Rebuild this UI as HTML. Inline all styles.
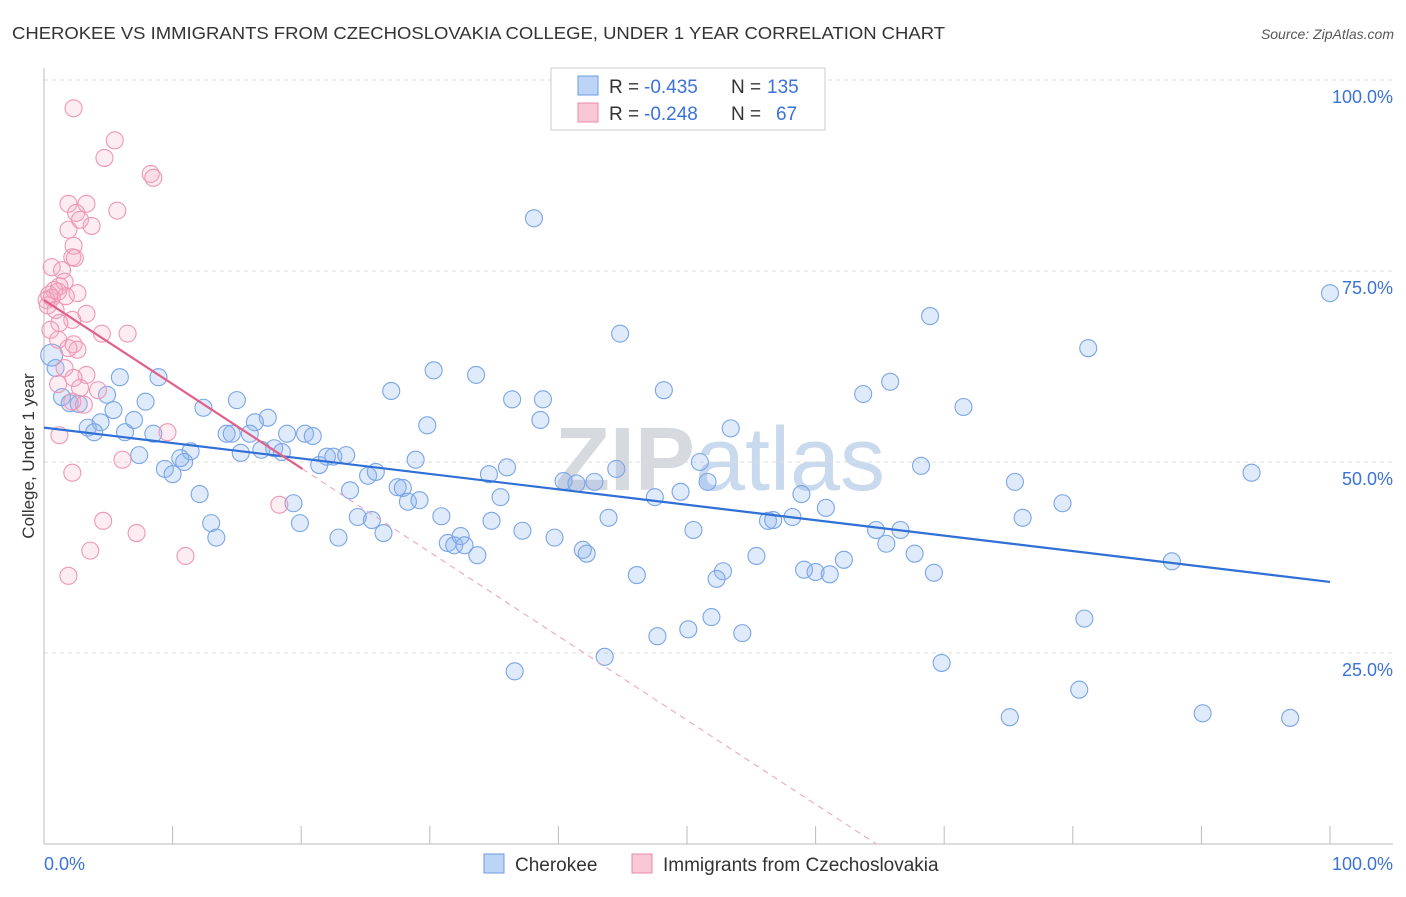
<!DOCTYPE html>
<html><head><meta charset="utf-8"><style>
body{margin:0;background:#fff;font-family:"Liberation Sans",sans-serif}
svg text{font-family:"Liberation Sans",sans-serif}
</style></head><body>
<svg id="chart" width="1406" height="892">
<text x="12" y="39" font-size="17.5" fill="#333" textLength="933" lengthAdjust="spacingAndGlyphs">CHEROKEE VS IMMIGRANTS FROM CZECHOSLOVAKIA COLLEGE, UNDER 1 YEAR CORRELATION CHART</text>
<text x="1394" y="39" font-size="14" fill="#555" font-style="italic" text-anchor="end">Source: ZipAtlas.com</text>
<text x="720" y="490" font-size="90" fill="#d8dde6" text-anchor="middle" font-family="Liberation Serif"><tspan font-weight="bold" fill="#d6d9de">ZIP</tspan><tspan fill="#c9d9ee">atlas</tspan></text>
<g id="grid"></g><g id="axes"></g><g id="pts"></g><g id="lines"></g>
<text transform="translate(34,456) rotate(-90)" font-size="17" fill="#333" text-anchor="middle">College, Under 1 year</text>
<g>
<rect x="551" y="68" width="274" height="62" fill="#fff" stroke="#ccc"/>
<rect x="578" y="76" width="20" height="19" fill="#bcd4f5" stroke="#6b9be0"/>
<text y="93" font-size="19" fill="#333"><tspan x="609">R =</tspan><tspan x="644" fill="#3a72d8">-0.435</tspan><tspan x="731">N =</tspan><tspan x="767" fill="#3a72d8">135</tspan></text>
<rect x="578" y="103" width="20" height="19" fill="#f8c8d6" stroke="#e88aa8"/>
<text y="120" font-size="19" fill="#333"><tspan x="609">R =</tspan><tspan x="644" fill="#3a72d8">-0.248</tspan><tspan x="731">N =</tspan><tspan x="776" fill="#3a72d8">67</tspan></text>
</g>
<g>
<rect x="484" y="854" width="20" height="19" fill="#bcd4f5" stroke="#6b9be0"/>
<text x="515" y="871" font-size="19" fill="#333">Cherokee</text>
<rect x="632" y="854" width="20" height="19" fill="#f8c8d6" stroke="#e88aa8"/>
<text x="663" y="871" font-size="19" fill="#333">Immigrants from Czechoslovakia</text>
</g>
</svg>
<script>
const blueX=[38.1,44.8,68.9,81.2,100,30.3,33.6,27.0,48.2,65.8,63.7,36.4,38.8,38.6,29.8,53.4,71.5,8.9,5.9,0.9,0.6,1.4,2.0,2.7,4.9,5.4,4.4,3.4,3.9,6.3,7.0,7.9,8.5,12.4,15.0,17.4,16.4,14.2,14.6,16.0,15.3,17.9,16.9,18.5,18.9,20.3,20.9,11.4,7.4,10.6,9.4,10.0,10.9,12.1,13.0,13.4,19.4,19.9,22.9,21.4,22.0,22.5,23.5,23.8,25.2,25.8,24.4,25.5,26.4,27.5,27.9,28.3,29.2,28.9,30.9,31.4,31.9,32.4,32.7,33.7,34.6,36.0,35.5,34.8,37.2,39.7,40.4,41.4,42.8,44.5,41.9,42.2,43.9,46.1,47.5,49.5,51.0,51.6,50.5,52.8,52.3,47.7,50.1,51.9,54.3,55.4,56.3,56.7,58.2,58.9,59.1,60.0,61.1,62.2,60.8,64.7,65.5,66.6,67.7,69.2,68.2,69.8,43.6,36.6,75.1,80.5,90.1,96.9,80.9,87.7,93.9,75.5,76.1,79.2];
const blueY=[81.9,66.8,69.1,64.9,72.1,62.0,61.4,59.3,59.4,60.5,58.9,58.2,58.2,55.5,54.8,54.4,57.2,61.1,61.1,62.3,64.0,58.5,57.7,57.6,58.8,56.8,55.2,54.5,53.9,53.9,55.5,57.9,53.7,57.1,58.1,55.8,55.2,53.7,53.7,53.7,51.2,51.8,51.6,51.3,53.7,53.7,53.4,51.4,50.9,50.5,49.1,48.4,50.0,45.8,42.0,40.1,44.6,42.0,40.1,49.6,50.7,50.7,50.9,46.3,48.2,48.7,42.8,42.4,40.7,46.7,46.6,44.8,45.0,50.3,42.9,39.4,39.1,40.3,39.1,37.8,48.4,49.3,45.4,42.3,41.0,40.1,47.5,47.2,47.4,49.1,38.5,38.0,42.7,35.2,45.4,46.1,50.0,47.4,41.1,35.7,34.7,27.2,28.1,29.7,27.6,37.7,42.3,42.4,42.8,45.8,35.9,35.6,35.3,37.2,44.0,41.1,39.3,41.1,38.0,35.5,49.5,23.7,24.5,22.6,16.6,20.2,17.1,16.5,29.5,37.0,48.6,47.4,42.7,44.6];
const pinkX=[2.3,5.5,4.7,8.3,8.5,1.9,3.3,5.7,2.5,2.8,3.7,1.9,2.3,2.2,2.4,0.6,1.4,1.6,1.2,0.8,0.4,0.6,1.1,0.2,0.3,1.7,2.6,0.9,3.3,2.2,1.2,0.5,4.5,6.5,1.1,2.3,2.6,1.9,1.6,3.3,2.3,1.1,2.8,4.2,2.2,3.1,1.2,9.6,6.1,2.2,18.3,4.6,7.2,3.6,11.0,1.9];
const pinkY=[96.3,92.1,89.8,87.7,87.2,83.8,83.8,82.9,82.6,81.7,80.9,80.4,78.3,76.8,76.7,75.5,75.1,73.6,73.0,72.5,71.9,71.5,72.3,71.2,70.5,71.7,72.1,69.9,69.4,68.6,68.2,67.3,66.8,66.8,66.0,65.4,64.7,64.9,62.3,61.4,61.0,60.2,59.7,59.4,57.9,57.5,53.5,53.9,50.3,48.6,44.4,42.3,40.7,38.4,37.7,35.1];
const blueTrend=[54.5,34.3];
const pinkTrend=[71.2,-1.1];
const yTicks=[100,75,50,25];
const NS="http://www.w3.org/2000/svg";
const X=v=>44+12.86*v, Y=v=>844-7.64*v;
function mk(tag,attrs,parent){const e=document.createElementNS(NS,tag);for(const k in attrs)e.setAttribute(k,attrs[k]);document.getElementById(parent).appendChild(e);return e;}
yTicks.forEach(t=>{
 const l=mk('line',{x1:44,x2:1393,y1:Y(t),y2:Y(t),stroke:'#ddd','stroke-dasharray':'4,4'},'grid');
 
 
 const tx=mk('text',{x:1393,y:Y(t)+23,'font-size':18,fill:'#3a72d8','text-anchor':'end'},'grid');
 tx.textContent=t.toFixed(1)+'%';
 
 
});
mk('line',{x1:44,x2:44,y1:68,y2:844,stroke:'#bbb'},'axes');
mk('line',{x1:44,x2:1393,y1:844,y2:844,stroke:'#bbb'},'axes');
for(let i=1;i<=10;i++){mk('line',{x1:X(i*10),x2:X(i*10),y1:826,y2:844,stroke:'#bbb'},'axes');}
const x0=mk('text',{x:44,y:870,'font-size':18,fill:'#3a72d8'},'axes');x0.textContent='0.0%';


const x1=mk('text',{x:1393,y:870,'font-size':18,fill:'#3a72d8','text-anchor':'end'},'axes');x1.textContent='100.0%';


blueX.forEach((v,i)=>{
 const c=mk('circle',{cx:X(v),cy:Y(blueY[i]),r:(i==20?11:8.5),fill:'rgba(140,180,240,0.28)',stroke:'#7aa6e6','stroke-width':1.1},'pts');
 
 
});
pinkX.forEach((v,i)=>{
 const c=mk('circle',{cx:X(v),cy:Y(pinkY[i]),r:8.5,fill:'rgba(245,170,195,0.22)',stroke:'#ee98b4','stroke-width':1.1},'pts');
 
 
});
const bl=mk('line',{x1:X(0),y1:Y(blueTrend[0]),x2:X(100),y2:Y(blueTrend[1]),stroke:'#2f6fd6','stroke-width':2.2},'lines');


const pz=-pinkTrend[0]/pinkTrend[1];
const pl=mk('line',{x1:X(0),y1:Y(pinkTrend[0]),x2:X(20.1),y2:Y(pinkTrend[0]+pinkTrend[1]*20.1),stroke:'#e0608a','stroke-width':2.2},'lines');


const pd=mk('line',{x1:X(20.1),y1:Y(pinkTrend[0]+pinkTrend[1]*20.1),x2:X(pz),y2:Y(0),stroke:'#eaa0b8','stroke-width':1,'stroke-dasharray':'6,5'},'lines');


</script>
</body></html>
